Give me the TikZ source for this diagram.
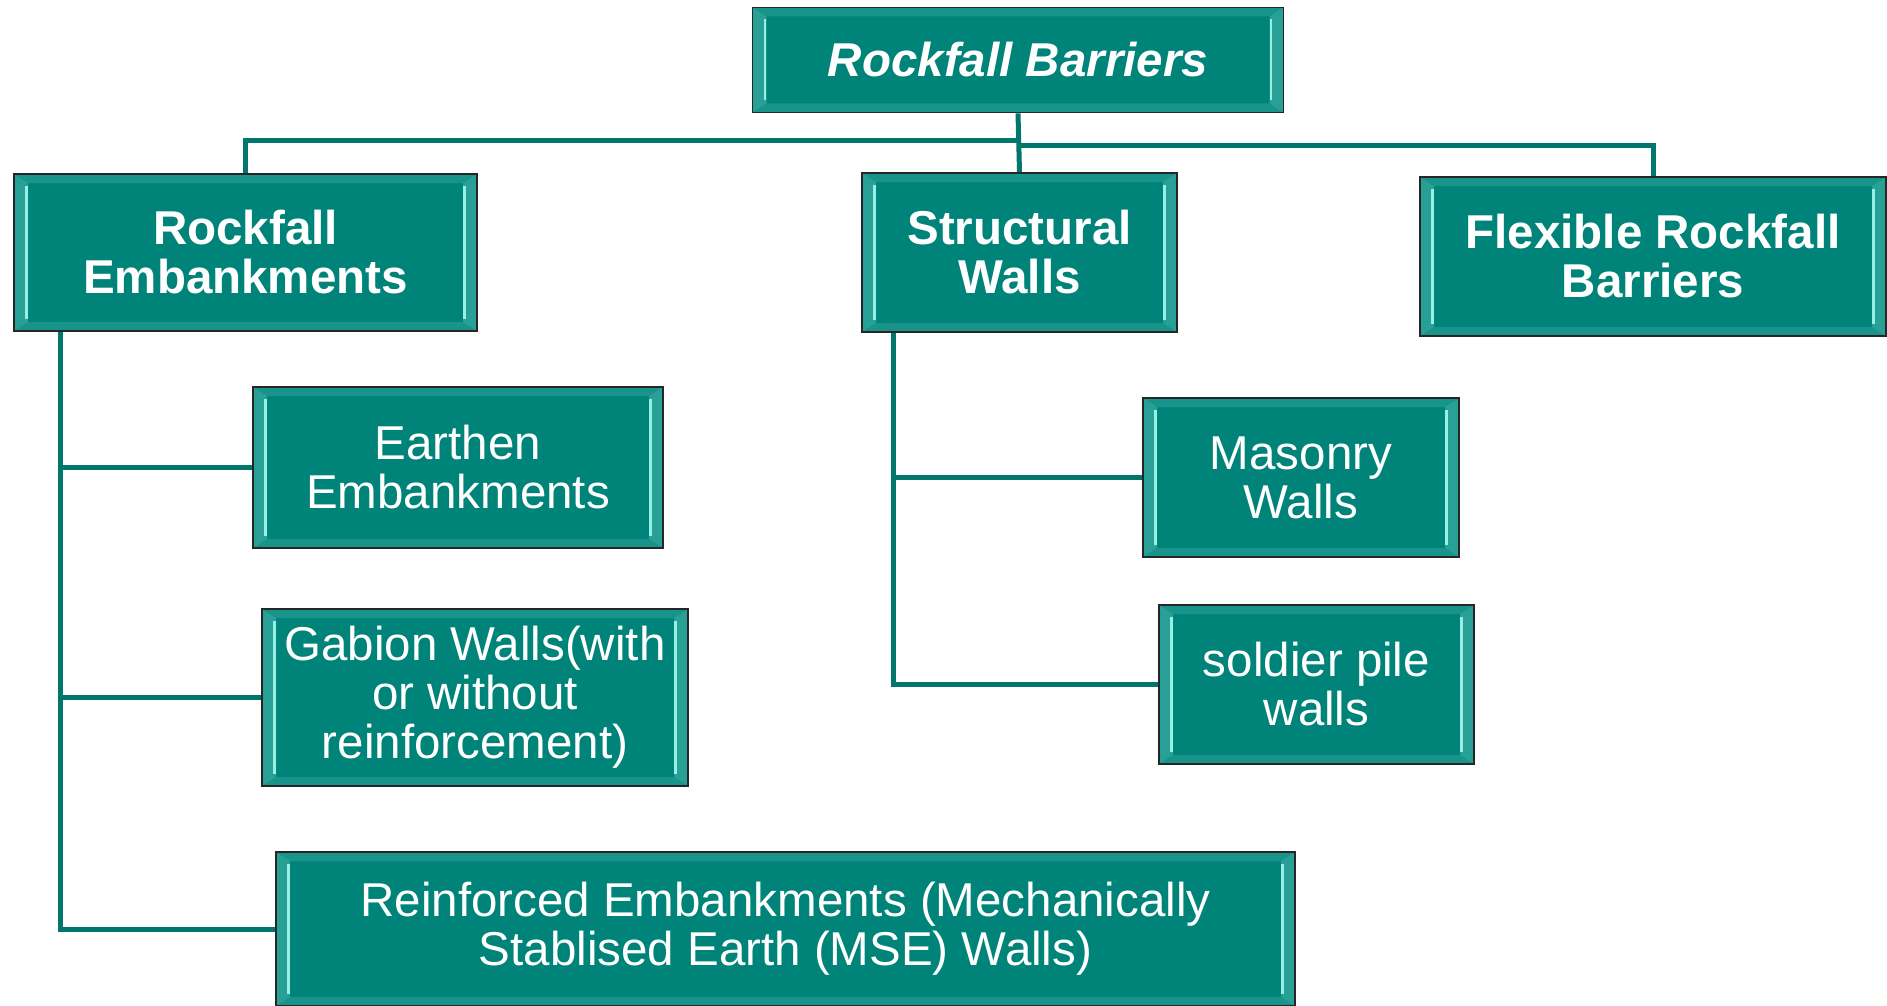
\documentclass[tikz,border=0pt]{standalone}
\usepackage{fontspec}
\setmainfont{Liberation Sans}
\usetikzlibrary{calc}
\definecolor{tealc}{RGB}{0,132,121}
\definecolor{tealedge}{RGB}{40,160,150}
\definecolor{tealtop}{RGB}{25,148,138}
\definecolor{tealhi}{RGB}{150,240,230}
\definecolor{linec}{RGB}{0,118,108}
\tikzset{
  bx/.style={rectangle, draw=black!85, line width=1.8pt, fill=tealc, text=white,
    align=center, inner sep=0pt,
    font=\fontsize{47.5}{49}\selectfont,
    path picture={
      \coordinate (pA) at (path picture bounding box.north west);
      \coordinate (pB) at (path picture bounding box.north east);
      \coordinate (pC) at (path picture bounding box.south east);
      \coordinate (pD) at (path picture bounding box.south west);
      \coordinate (qa) at ([xshift=14pt,yshift=-9pt]pA);
      \coordinate (qb) at ([xshift=-14pt,yshift=-9pt]pB);
      \coordinate (qc) at ([xshift=-14pt,yshift=9pt]pC);
      \coordinate (qd) at ([xshift=14pt,yshift=9pt]pD);
      \fill[tealtop] (pA) -- (pB) -- (qb) -- (qa) -- cycle;
      \fill[tealtop] (pD) -- (pC) -- (qc) -- (qd) -- cycle;
      \fill[tealedge] (pA) -- (qa) -- (qd) -- (pD) -- cycle;
      \fill[tealedge] (pB) -- (qb) -- (qc) -- (pC) -- cycle;
      \draw[tealhi, line width=2.5pt] ([xshift=-1.5pt,yshift=-3pt]qa) -- ([xshift=-1.5pt,yshift=3pt]qd);
      \draw[tealhi, line width=2.5pt] ([xshift=1.5pt,yshift=-3pt]qb) -- ([xshift=1.5pt,yshift=3pt]qc);
    }},
  bold/.style={font=\fontsize{47.5}{49}\selectfont\bfseries},
  conn/.style={draw=linec, line width=5pt},
}
\begin{document}
\begin{tikzpicture}[x=1pt, y=-1pt]
\useasboundingbox (0,0) rectangle (1887,1006);
\node[bx, font=\fontsize{47.5}{49}\selectfont\bfseries\itshape, minimum width=531, minimum height=105] (top) at (1018,60) {Rockfall Barriers};
\node[bx, bold, minimum width=463, minimum height=157] (RE) at (245.5,252.5) {Rockfall\\Embankments};
\node[bx, bold, minimum width=315, minimum height=159] (SW) at (1019.5,252.5) {Structural\\Walls};
\node[bx, bold, minimum width=466, minimum height=159] (FR) at (1653,256.5) {Flexible Rockfall\\Barriers};
\node[bx, minimum width=410, minimum height=161] (EA) at (458,467.5) {Earthen\\Embankments};
\node[bx, minimum width=426, minimum height=177] (GA) at (475,697.5) {Gabion Walls(with\\or without\\reinforcement)};
\node[bx, minimum width=1019, minimum height=154] (RF) at (785.5,929) {Reinforced Embankments (Mechanically\\Stablised Earth (MSE) Walls)};
\node[bx, minimum width=316, minimum height=159] (MA) at (1301,477.5) {Masonry\\Walls};
\node[bx, minimum width=315, minimum height=159] (SO) at (1316.5,684.5) {soldier pile\\walls};
% connectors
\coordinate (busL) at (1018,141);
\coordinate (busR) at (1018,146);
\draw[conn] (top.south) -- (SW.north);
\draw[conn] (RE.north) |- (busL);
\draw[conn] (FR.north) |- (busR);
\coordinate (trL) at ([xshift=47pt]RE.south west);
\draw[conn] (trL) |- (RF.west);
\draw[conn] (EA.west) -- (EA.west -| trL);
\draw[conn] (GA.west) -- (GA.west -| trL);
\coordinate (trS) at ([xshift=32pt]SW.south west);
\draw[conn] (trS) |- (SO.west);
\draw[conn] (MA.west) -- (MA.west -| trS);
\end{tikzpicture}
\end{document}
